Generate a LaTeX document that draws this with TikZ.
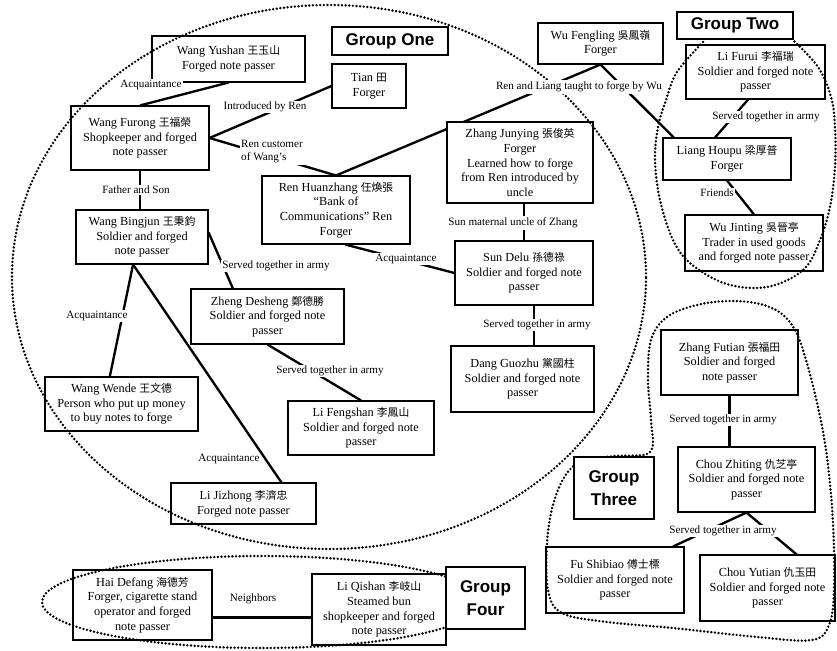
\documentclass[tikz,border=0pt]{standalone}
\usepackage{fontspec}
\setmainfont{Liberation Serif}
\newfontfamily\cjkfont[Scale=0.88]{Noto Sans CJK TC}
\newfontfamily\grpfont{Liberation Sans}
\newcommand\zh[1]{{\cjkfont #1}}
\newcommand\boxfnt{\fontsize{10.5}{12.4}\selectfont}
\newcommand\labfnt{\fontsize{9.5}{11}\selectfont}
\usetikzlibrary{calc}
\pgfdeclarelayer{bg}
\pgfsetlayers{bg,main}
\tikzset{
  box/.style={draw, line width=0.9pt, fill=white, inner sep=0pt, align=center, font=\boxfnt},
  sz/.style 2 args={minimum width=#1*0.03cm, minimum height=#2*0.03cm},
  lab/.style={fill=white, inner sep=1.2pt, font=\labfnt},
  grp/.style={draw, line width=1.2pt, fill=white, inner sep=0pt, align=center, font=\grpfont\bfseries\fontsize{14.5}{19.5}\selectfont},
  link/.style={line width=2pt},
  grpline/.style={line width=2.3pt, dash pattern=on 0pt off 3.1pt, line cap=round}
}
\begin{document}
\begin{tikzpicture}[x=0.03cm,y=-0.03cm]
\useasboundingbox (0,0) rectangle (837,651);
% boxes
\node[box,sz={153}{46}] (yushan) at (228.5,59) {Wang Yushan \zh{王玉山}\\Forged note passer};
\node[box,sz={74}{44}] (tian) at (369,86) {Tian \zh{田}\\Forger};
\node[box,sz={138}{64}] (furong) at (140,138) {Wang Furong \zh{王福榮}\\Shopkeeper and forged\\note passer};
\node[box,sz={148}{68}] (ren) at (336,210) {Ren Huanzhang \zh{任煥張}\\“Bank of\\Communications” Ren\\Forger};
\node[box,sz={125}{41}] (wu) at (600.5,43.5) {Wu Fengling \zh{吳鳳嶺}\\Forger};
\node[box,sz={139}{54}] (furui) at (755.5,72) {Li Furui \zh{李福瑞}\\Soldier and forged note\\passer};
\node[box,sz={146}{81}] (zhang) at (520,162.5) {Zhang Junying \zh{張俊英}\\Forger\\Learned how to forge\\from Ren introduced by\\uncle};
\node[box,sz={128}{42}] (liang) at (727,159) {Liang Houpu \zh{梁厚普}\\Forger};
\node[box,sz={138}{56}] (jinting) at (754,243) {Wu Jinting \zh{吳晉亭}\\Trader in used goods\\and forged note passer};
\node[box,sz={132}{54}] (bingjun) at (142,237) {Wang Bingjun \zh{王秉鈞}\\Soldier and forged\\note passer};
\node[box,sz={153}{55}] (zheng) at (267.5,316.5) {Zheng Desheng \zh{鄭德勝}\\Soldier and forged note\\passer};
\node[box,sz={138}{64}] (sun) at (524,273) {Sun Delu \zh{孫德祿}\\Soldier and forged note\\passer};
\node[box,sz={143}{66}] (dang) at (522.5,379) {Dang Guozhu \zh{黨國柱}\\Soldier and forged note\\passer};
\node[box,sz={153}{54}] (wende) at (121.5,404) {Wang Wende \zh{王文德}\\Person who put up money\\to buy notes to forge};
\node[box,sz={146}{54}] (fengshan) at (361,428) {Li Fengshan \zh{李鳳山}\\Soldier and forged note\\passer};
\node[box,sz={145}{41}] (jizhong) at (243.5,503.5) {Li Jizhong \zh{李濟忠}\\Forged note passer};
\node[box,sz={137}{65}] (futian) at (729.5,362.5) {Zhang Futian \zh{張福田}\\Soldier and forged\\note passer};
\node[box,sz={137}{65}] (zhiting) at (746.5,479.5) {Chou Zhiting \zh{仇芝亭}\\Soldier and forged note\\passer};
\node[box,sz={138}{66}] (fu) at (615,580) {Fu Shibiao \zh{傅士標}\\Soldier and forged note\\passer};
\node[box,sz={135}{66}] (yutian) at (767.5,588) {Chou Yutian \zh{仇玉田}\\Soldier and forged note\\passer};
\node[box,sz={139}{70}] (hai) at (142.5,605) {Hai Defang \zh{海德芳}\\Forger, cigarette stand\\operator and forged\\note passer};
\node[box,sz={134}{71}] (qishan) at (379,609.5) {Li Qishan \zh{李岐山}\\Steamed bun\\shopkeeper and forged\\note passer};
% connectors
\begin{pgfonlayer}{bg}
\draw[link] (yushan.south) -- (furong.north);
\draw[link] (tian.west) -- (furong.east);
\draw[link] (furong.east) -- (ren.north);
\draw[link] (ren.north) -- (wu.south);
\draw[link] (wu.south) -- (liang.158);
\draw[link] (furui.255) -- (liang.119);
\draw[link] (liang.south) -- (jinting.north);
\draw[link] (furong.south) -- (furong.south |- bingjun.north);
\draw[link] (ren.285) -- (sun.west);
\draw[link] (sun.north |- zhang.south) -- (sun.north);
\draw[link] (sun.287) -- (sun.287 |- dang.north);
\draw[link] (bingjun.4) -- (zheng.141);
\draw[link] (zheng.south) -- (fengshan.north);
\draw[link] (bingjun.252) -- (wende.113);
\draw[link] (bingjun.252) -- (jizhong.29);
\draw[link] (futian.south) -- (futian.south |- zhiting.north);
\draw[link] (zhiting.south) -- (fu.30);
\draw[link] (zhiting.south) -- (yutian.49);
\draw[link] (hai.350) -- (hai.350 -| qishan.west);
\end{pgfonlayer}
% group outlines
\draw[grpline] (329,277) ellipse [x radius=9.51cm, y radius=8.16cm];
\draw[grpline] plot[smooth, tension=0.6] coordinates {(703,42) (677,72) (666,100) (658,127) (655,160) (660,200) (673,240) (690,263) (721,282) (753,288) (781,283) (806,267) (820,240) (830,207) (835,167) (835,127) (831,97) (818,67) (793,40)};
\draw[grpline] plot[smooth cycle, tension=0.6] coordinates {(650,452) (651,420) (648,380) (651,340) (667,317) (697,305) (730,301) (760,304) (782,314) (796,332) (806,360) (818,407) (827,457) (833,523) (834,590) (829,625) (812,640) (757,637) (673,628) (607,622) (562,613) (548,590) (547,543) (553,505) (565,476) (582,461) (615,456)};
\draw[grpline] (262,602) ellipse [x radius=6.6cm, y radius=1.38cm];
% labels
\node[lab] (l1) at (151,85) {Acquaintance};
\node[lab] (l2) at (265,107) {Introduced by Ren};
\node[lab,align=left] (l3) at (272,152) {Ren customer\\of Wang’s};
\node[lab] (l4) at (579,87) {Ren and Liang taught to forge by Wu};
\node[lab] (l5) at (766,117) {Served together in army};
\node[lab] (l6) at (717,193) {Friends};
\node[lab] (l7) at (136,190) {Father and Son};
\node[lab] (l8) at (406,259) {Acquaintance};
\node[lab] (l9) at (513,223) {Sun maternal uncle of Zhang};
\node[lab] (l10) at (537,325) {Served together in army};
\node[lab] (l11) at (276,266) {Served together in army};
\node[lab] (l12) at (330,371) {Served together in army};
\node[lab] (l13) at (97,316) {Acquaintance};
\node[lab,fill=none] (l14) at (229,459) {Acquaintance};
\node[lab] (l15) at (723,420) {Served together in army};
\node[lab] (l16) at (723,531) {Served together in army};
\node[lab,fill=none] (l17) at (253,599) {Neighbors};
% group labels
\node[grp,sz={116}{28}] (g1) at (390,41) {Group One};
\node[grp,sz={116}{27}] (g2) at (735,25.5) {Group Two};
\node[grp,sz={80}{62}] (g3) at (614,488) {Group\\Three};
\node[grp,sz={79}{62}] (g4) at (485.5,598) {Group\\Four};
\end{tikzpicture}
\end{document}
